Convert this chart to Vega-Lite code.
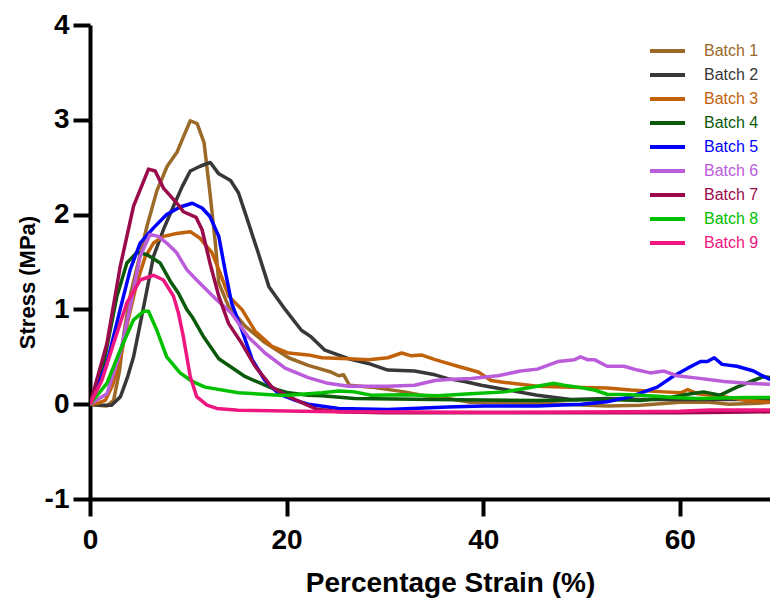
{
  "$schema": "https://vega.github.io/schema/vega-lite/v6.json",
  "width": 680,
  "height": 474,
  "autosize": {"type": "none"},
  "padding": {"left": 90, "top": 25, "right": 0, "bottom": 102},
  "background": "white",
  "config": {"view": {"stroke": null}},
  "datasets": {
    "curves": [
      {"b":"Batch 1","x":0,"y":0},{"b":"Batch 1","x":0.8,"y":-0.01},{"b":"Batch 1","x":1.7,"y":-0.02},{"b":"Batch 1","x":2.4,"y":0.04},{"b":"Batch 1","x":3.0,"y":0.35},{"b":"Batch 1","x":3.45,"y":0.75},{"b":"Batch 1","x":4.1,"y":1.15},{"b":"Batch 1","x":4.8,"y":1.45},{"b":"Batch 1","x":5.8,"y":1.88},{"b":"Batch 1","x":6.8,"y":2.25},{"b":"Batch 1","x":7.85,"y":2.51},{"b":"Batch 1","x":8.86,"y":2.66},{"b":"Batch 1","x":9.5,"y":2.82},{"b":"Batch 1","x":10.2,"y":2.99},{"b":"Batch 1","x":10.9,"y":2.96},{"b":"Batch 1","x":11.6,"y":2.76},{"b":"Batch 1","x":12.2,"y":2.23},{"b":"Batch 1","x":12.75,"y":1.7},{"b":"Batch 1","x":13.1,"y":1.28},{"b":"Batch 1","x":14.1,"y":1.03},{"b":"Batch 1","x":15.8,"y":0.82},{"b":"Batch 1","x":17.8,"y":0.65},{"b":"Batch 1","x":20.2,"y":0.49},{"b":"Batch 1","x":22.2,"y":0.41},{"b":"Batch 1","x":24.5,"y":0.34},{"b":"Batch 1","x":25.3,"y":0.3},{"b":"Batch 1","x":25.8,"y":0.31},{"b":"Batch 1","x":26.4,"y":0.2},{"b":"Batch 1","x":28.6,"y":0.18},{"b":"Batch 1","x":32,"y":0.13},{"b":"Batch 1","x":33.7,"y":0.095},{"b":"Batch 1","x":36.4,"y":0.06},{"b":"Batch 1","x":38.7,"y":0.02},{"b":"Batch 1","x":45.5,"y":0.01},{"b":"Batch 1","x":52.6,"y":-0.02},{"b":"Batch 1","x":56,"y":-0.01},{"b":"Batch 1","x":60,"y":0.02},{"b":"Batch 1","x":63,"y":0.02},{"b":"Batch 1","x":65,"y":0.0},{"b":"Batch 1","x":68,"y":0.01},{"b":"Batch 1","x":69.2,"y":0.02},

      {"b":"Batch 2","x":0,"y":0},{"b":"Batch 2","x":1,"y":-0.01},{"b":"Batch 2","x":2.2,"y":-0.01},{"b":"Batch 2","x":3.1,"y":0.08},{"b":"Batch 2","x":3.8,"y":0.28},{"b":"Batch 2","x":4.43,"y":0.5},{"b":"Batch 2","x":5.5,"y":1.05},{"b":"Batch 2","x":6.46,"y":1.56},{"b":"Batch 2","x":7.5,"y":1.85},{"b":"Batch 2","x":8.5,"y":2.09},{"b":"Batch 2","x":9.4,"y":2.3},{"b":"Batch 2","x":10.2,"y":2.46},{"b":"Batch 2","x":11.2,"y":2.51},{"b":"Batch 2","x":12.24,"y":2.55},{"b":"Batch 2","x":13.1,"y":2.43},{"b":"Batch 2","x":14.3,"y":2.36},{"b":"Batch 2","x":15.1,"y":2.23},{"b":"Batch 2","x":16.0,"y":1.95},{"b":"Batch 2","x":17.1,"y":1.6},{"b":"Batch 2","x":18.2,"y":1.24},{"b":"Batch 2","x":19.85,"y":1.0},{"b":"Batch 2","x":21.5,"y":0.78},{"b":"Batch 2","x":22.5,"y":0.71},{"b":"Batch 2","x":23.9,"y":0.57},{"b":"Batch 2","x":26.3,"y":0.48},{"b":"Batch 2","x":28.3,"y":0.43},{"b":"Batch 2","x":30.3,"y":0.36},{"b":"Batch 2","x":33.0,"y":0.35},{"b":"Batch 2","x":35.1,"y":0.31},{"b":"Batch 2","x":36.4,"y":0.27},{"b":"Batch 2","x":38.1,"y":0.24},{"b":"Batch 2","x":39.8,"y":0.2},{"b":"Batch 2","x":42.2,"y":0.155},{"b":"Batch 2","x":45.5,"y":0.095},{"b":"Batch 2","x":48.9,"y":0.05},{"b":"Batch 2","x":52.6,"y":0.06},{"b":"Batch 2","x":56,"y":0.05},{"b":"Batch 2","x":60,"y":0.05},{"b":"Batch 2","x":65,"y":0.05},{"b":"Batch 2","x":69.2,"y":0.05},

      {"b":"Batch 3","x":0,"y":0},{"b":"Batch 3","x":0.8,"y":0.01},{"b":"Batch 3","x":1.55,"y":0.04},{"b":"Batch 3","x":2.3,"y":0.2},{"b":"Batch 3","x":3.07,"y":0.47},{"b":"Batch 3","x":3.9,"y":0.9},{"b":"Batch 3","x":4.77,"y":1.28},{"b":"Batch 3","x":5.6,"y":1.55},{"b":"Batch 3","x":6.46,"y":1.7},{"b":"Batch 3","x":7.47,"y":1.77},{"b":"Batch 3","x":8.8,"y":1.8},{"b":"Batch 3","x":10.2,"y":1.82},{"b":"Batch 3","x":11.2,"y":1.75},{"b":"Batch 3","x":12.4,"y":1.6},{"b":"Batch 3","x":13.25,"y":1.38},{"b":"Batch 3","x":14.1,"y":1.14},{"b":"Batch 3","x":15.45,"y":1.0},{"b":"Batch 3","x":16.8,"y":0.77},{"b":"Batch 3","x":18.5,"y":0.61},{"b":"Batch 3","x":20.2,"y":0.54},{"b":"Batch 3","x":22.2,"y":0.52},{"b":"Batch 3","x":23.6,"y":0.49},{"b":"Batch 3","x":26.3,"y":0.48},{"b":"Batch 3","x":28.3,"y":0.47},{"b":"Batch 3","x":30.3,"y":0.49},{"b":"Batch 3","x":31.7,"y":0.54},{"b":"Batch 3","x":32.7,"y":0.51},{"b":"Batch 3","x":33.7,"y":0.52},{"b":"Batch 3","x":35.1,"y":0.47},{"b":"Batch 3","x":36.4,"y":0.43},{"b":"Batch 3","x":37.4,"y":0.4},{"b":"Batch 3","x":39.5,"y":0.34},{"b":"Batch 3","x":40.8,"y":0.25},{"b":"Batch 3","x":42.2,"y":0.23},{"b":"Batch 3","x":45.5,"y":0.19},{"b":"Batch 3","x":48.9,"y":0.18},{"b":"Batch 3","x":52.6,"y":0.17},{"b":"Batch 3","x":55.0,"y":0.15},{"b":"Batch 3","x":58.4,"y":0.13},{"b":"Batch 3","x":60.1,"y":0.12},{"b":"Batch 3","x":60.8,"y":0.155},{"b":"Batch 3","x":61.8,"y":0.11},{"b":"Batch 3","x":64.5,"y":0.08},{"b":"Batch 3","x":66.8,"y":0.04},{"b":"Batch 3","x":69.2,"y":0.02},

      {"b":"Batch 4","x":0,"y":0},{"b":"Batch 4","x":1.39,"y":0.43},{"b":"Batch 4","x":2.74,"y":1.14},{"b":"Batch 4","x":3.75,"y":1.49},{"b":"Batch 4","x":4.77,"y":1.6},{"b":"Batch 4","x":5.78,"y":1.58},{"b":"Batch 4","x":7.13,"y":1.49},{"b":"Batch 4","x":8.15,"y":1.3},{"b":"Batch 4","x":9.0,"y":1.17},{"b":"Batch 4","x":9.84,"y":1.0},{"b":"Batch 4","x":10.4,"y":0.92},{"b":"Batch 4","x":11.5,"y":0.72},{"b":"Batch 4","x":13.1,"y":0.48},{"b":"Batch 4","x":15.8,"y":0.29},{"b":"Batch 4","x":18.5,"y":0.17},{"b":"Batch 4","x":20.2,"y":0.12},{"b":"Batch 4","x":22.2,"y":0.095},{"b":"Batch 4","x":23.6,"y":0.09},{"b":"Batch 4","x":26.9,"y":0.06},{"b":"Batch 4","x":35,"y":0.05},{"b":"Batch 4","x":45.5,"y":0.04},{"b":"Batch 4","x":52.6,"y":0.05},{"b":"Batch 4","x":56,"y":0.04},{"b":"Batch 4","x":59,"y":0.07},{"b":"Batch 4","x":60.8,"y":0.105},{"b":"Batch 4","x":62.4,"y":0.13},{"b":"Batch 4","x":64.1,"y":0.095},{"b":"Batch 4","x":65.8,"y":0.18},{"b":"Batch 4","x":67.5,"y":0.25},{"b":"Batch 4","x":68.5,"y":0.29},{"b":"Batch 4","x":69.2,"y":0.28},

      {"b":"Batch 5","x":0,"y":0},{"b":"Batch 5","x":1.72,"y":0.43},{"b":"Batch 5","x":3.07,"y":1.0},{"b":"Batch 5","x":4.09,"y":1.42},{"b":"Batch 5","x":5.1,"y":1.7},{"b":"Batch 5","x":6.46,"y":1.86},{"b":"Batch 5","x":7.8,"y":2.0},{"b":"Batch 5","x":9.16,"y":2.08},{"b":"Batch 5","x":10.4,"y":2.12},{"b":"Batch 5","x":11.4,"y":2.07},{"b":"Batch 5","x":12.2,"y":1.98},{"b":"Batch 5","x":13.1,"y":1.77},{"b":"Batch 5","x":13.8,"y":1.38},{"b":"Batch 5","x":14.4,"y":1.07},{"b":"Batch 5","x":15.45,"y":0.78},{"b":"Batch 5","x":16.5,"y":0.47},{"b":"Batch 5","x":17.8,"y":0.25},{"b":"Batch 5","x":19.2,"y":0.11},{"b":"Batch 5","x":20.9,"y":0.04},{"b":"Batch 5","x":22.2,"y":0.0},{"b":"Batch 5","x":25.3,"y":-0.045},{"b":"Batch 5","x":30.3,"y":-0.055},{"b":"Batch 5","x":36.4,"y":-0.03},{"b":"Batch 5","x":40,"y":-0.02},{"b":"Batch 5","x":45.5,"y":-0.02},{"b":"Batch 5","x":50,"y":0.0},{"b":"Batch 5","x":52.6,"y":0.025},{"b":"Batch 5","x":55,"y":0.08},{"b":"Batch 5","x":57.7,"y":0.18},{"b":"Batch 5","x":59.4,"y":0.3},{"b":"Batch 5","x":60.8,"y":0.38},{"b":"Batch 5","x":62.1,"y":0.45},{"b":"Batch 5","x":62.8,"y":0.45},{"b":"Batch 5","x":63.5,"y":0.49},{"b":"Batch 5","x":64.3,"y":0.42},{"b":"Batch 5","x":65.8,"y":0.4},{"b":"Batch 5","x":67.5,"y":0.35},{"b":"Batch 5","x":68.2,"y":0.31},{"b":"Batch 5","x":69.2,"y":0.26},

      {"b":"Batch 6","x":0,"y":0},{"b":"Batch 6","x":1.72,"y":0.11},{"b":"Batch 6","x":3.07,"y":0.54},{"b":"Batch 6","x":4.09,"y":1.03},{"b":"Batch 6","x":5.1,"y":1.56},{"b":"Batch 6","x":6.1,"y":1.79},{"b":"Batch 6","x":6.96,"y":1.77},{"b":"Batch 6","x":7.8,"y":1.7},{"b":"Batch 6","x":8.8,"y":1.6},{"b":"Batch 6","x":9.84,"y":1.42},{"b":"Batch 6","x":10.85,"y":1.31},{"b":"Batch 6","x":12.2,"y":1.17},{"b":"Batch 6","x":12.9,"y":1.1},{"b":"Batch 6","x":14.4,"y":0.96},{"b":"Batch 6","x":16.1,"y":0.71},{"b":"Batch 6","x":17.8,"y":0.54},{"b":"Batch 6","x":19.85,"y":0.38},{"b":"Batch 6","x":22.2,"y":0.28},{"b":"Batch 6","x":24.2,"y":0.22},{"b":"Batch 6","x":26.3,"y":0.19},{"b":"Batch 6","x":30.3,"y":0.19},{"b":"Batch 6","x":33,"y":0.2},{"b":"Batch 6","x":35.1,"y":0.25},{"b":"Batch 6","x":36.4,"y":0.26},{"b":"Batch 6","x":38.8,"y":0.27},{"b":"Batch 6","x":41.5,"y":0.3},{"b":"Batch 6","x":43.8,"y":0.35},{"b":"Batch 6","x":45.5,"y":0.37},{"b":"Batch 6","x":47.6,"y":0.45},{"b":"Batch 6","x":49.3,"y":0.47},{"b":"Batch 6","x":49.9,"y":0.5},{"b":"Batch 6","x":50.6,"y":0.47},{"b":"Batch 6","x":51.3,"y":0.47},{"b":"Batch 6","x":52.6,"y":0.4},{"b":"Batch 6","x":54.3,"y":0.4},{"b":"Batch 6","x":55.7,"y":0.36},{"b":"Batch 6","x":57.0,"y":0.33},{"b":"Batch 6","x":58.4,"y":0.35},{"b":"Batch 6","x":59.7,"y":0.3},{"b":"Batch 6","x":61.8,"y":0.275},{"b":"Batch 6","x":64.5,"y":0.24},{"b":"Batch 6","x":66.8,"y":0.22},{"b":"Batch 6","x":69.2,"y":0.21},

      {"b":"Batch 7","x":0,"y":0},{"b":"Batch 7","x":1.72,"y":0.64},{"b":"Batch 7","x":3.07,"y":1.45},{"b":"Batch 7","x":4.43,"y":2.09},{"b":"Batch 7","x":5.95,"y":2.48},{"b":"Batch 7","x":6.63,"y":2.46},{"b":"Batch 7","x":7.47,"y":2.28},{"b":"Batch 7","x":8.49,"y":2.16},{"b":"Batch 7","x":9.0,"y":2.1},{"b":"Batch 7","x":9.5,"y":2.03},{"b":"Batch 7","x":10.8,"y":1.97},{"b":"Batch 7","x":11.4,"y":1.84},{"b":"Batch 7","x":12.2,"y":1.49},{"b":"Batch 7","x":13.1,"y":1.14},{"b":"Batch 7","x":14.1,"y":0.85},{"b":"Batch 7","x":15.45,"y":0.64},{"b":"Batch 7","x":16.8,"y":0.4},{"b":"Batch 7","x":18.5,"y":0.18},{"b":"Batch 7","x":20.2,"y":0.08},{"b":"Batch 7","x":21.5,"y":0.02},{"b":"Batch 7","x":23,"y":-0.05},{"b":"Batch 7","x":25.3,"y":-0.08},{"b":"Batch 7","x":30,"y":-0.09},{"b":"Batch 7","x":40,"y":-0.09},{"b":"Batch 7","x":50,"y":-0.09},{"b":"Batch 7","x":60,"y":-0.09},{"b":"Batch 7","x":65,"y":-0.085},{"b":"Batch 7","x":69.2,"y":-0.08},

      {"b":"Batch 8","x":0,"y":0},{"b":"Batch 8","x":1.72,"y":0.22},{"b":"Batch 8","x":3.07,"y":0.57},{"b":"Batch 8","x":4.43,"y":0.89},{"b":"Batch 8","x":5.45,"y":0.98},{"b":"Batch 8","x":5.95,"y":0.98},{"b":"Batch 8","x":6.8,"y":0.78},{"b":"Batch 8","x":7.8,"y":0.5},{"b":"Batch 8","x":9.16,"y":0.33},{"b":"Batch 8","x":10.4,"y":0.24},{"b":"Batch 8","x":11.7,"y":0.18},{"b":"Batch 8","x":15.1,"y":0.12},{"b":"Batch 8","x":19.2,"y":0.095},{"b":"Batch 8","x":20.2,"y":0.095},{"b":"Batch 8","x":23.6,"y":0.12},{"b":"Batch 8","x":25.3,"y":0.14},{"b":"Batch 8","x":26.9,"y":0.13},{"b":"Batch 8","x":28.6,"y":0.095},{"b":"Batch 8","x":32,"y":0.1},{"b":"Batch 8","x":35.4,"y":0.09},{"b":"Batch 8","x":38.7,"y":0.11},{"b":"Batch 8","x":42.2,"y":0.13},{"b":"Batch 8","x":44.2,"y":0.165},{"b":"Batch 8","x":45.5,"y":0.19},{"b":"Batch 8","x":47.2,"y":0.22},{"b":"Batch 8","x":48.2,"y":0.2},{"b":"Batch 8","x":49.6,"y":0.18},{"b":"Batch 8","x":51.3,"y":0.15},{"b":"Batch 8","x":52.6,"y":0.105},{"b":"Batch 8","x":55,"y":0.1},{"b":"Batch 8","x":57.7,"y":0.085},{"b":"Batch 8","x":59.4,"y":0.07},{"b":"Batch 8","x":61.8,"y":0.06},{"b":"Batch 8","x":66.8,"y":0.07},{"b":"Batch 8","x":69.2,"y":0.07},

      {"b":"Batch 9","x":0,"y":0},{"b":"Batch 9","x":1.2,"y":0.25},{"b":"Batch 9","x":2.4,"y":0.64},{"b":"Batch 9","x":3.75,"y":1.07},{"b":"Batch 9","x":5.1,"y":1.31},{"b":"Batch 9","x":6.46,"y":1.36},{"b":"Batch 9","x":7.47,"y":1.31},{"b":"Batch 9","x":8.49,"y":1.14},{"b":"Batch 9","x":9.0,"y":0.96},{"b":"Batch 9","x":9.5,"y":0.71},{"b":"Batch 9","x":10.2,"y":0.29},{"b":"Batch 9","x":10.85,"y":0.08},{"b":"Batch 9","x":11.9,"y":-0.01},{"b":"Batch 9","x":12.9,"y":-0.045},{"b":"Batch 9","x":15.1,"y":-0.065},{"b":"Batch 9","x":25,"y":-0.08},{"b":"Batch 9","x":40,"y":-0.085},{"b":"Batch 9","x":55,"y":-0.08},{"b":"Batch 9","x":60,"y":-0.075},{"b":"Batch 9","x":63,"y":-0.06},{"b":"Batch 9","x":69.2,"y":-0.06}
    ]
  },
  "data": {"name": "curves"},
  "mark": {"type": "line", "strokeWidth": 3.5, "clip": true, "strokeJoin": "round"},
  "encoding": {
    "x": {
      "field": "x", "type": "quantitative",
      "scale": {"domain": [0, 69.17], "nice": false, "zero": false},
      "axis": {
        "values": [0, 20, 40, 60],
        "title": "Percentage Strain (%)",
        "grid": false,
        "domainColor": "black", "domainWidth": 4, "domainCap": "square",
        "tickColor": "black", "tickWidth": 4, "tickSize": 17,
        "labelFont": "Liberation Sans", "labelFontWeight": "bold", "labelFontSize": 28, "labelColor": "black", "labelPadding": 10,
        "labelFlush": false,
        "titleFont": "Liberation Sans", "titleFontWeight": "bold", "titleFontSize": 28, "titleColor": "black",
        "titleX": 360, "titleY": 84, "titleBaseline": "middle", "titleAlign": "center"
      }
    },
    "y": {
      "field": "y", "type": "quantitative",
      "scale": {"domain": [-1, 4], "nice": false, "zero": false},
      "axis": {
        "values": [-1, 0, 1, 2, 3, 4],
        "labelExpr": "'' + datum.value",
        "title": "Stress (MPa)",
        "grid": false,
        "domainColor": "black", "domainWidth": 4,
        "tickColor": "black", "tickWidth": 4, "tickSize": 17,
        "labelFont": "Liberation Sans", "labelFontWeight": "bold", "labelFontSize": 28, "labelColor": "black", "labelPadding": 4,
        "labelFlush": false,
        "titleFont": "Liberation Sans", "titleFontWeight": "bold", "titleFontSize": 22, "titleColor": "black",
        "titleX": -63, "titleY": 257, "titleBaseline": "middle", "titleAlign": "center", "titleAngle": 270
      }
    },
    "color": {
      "field": "b", "type": "nominal",
      "scale": {
        "domain": ["Batch 1","Batch 2","Batch 3","Batch 4","Batch 5","Batch 6","Batch 7","Batch 8","Batch 9"],
        "range": ["#9B6928","#383838","#C1610A","#0B5A0B","#0000FF","#BB5CDB","#9B0A4B","#00C000","#F0167F"]
      },
      "legend": {
        "title": null,
        "orient": "none",
        "legendX": 558,
        "legendY": 14,
        "symbolType": "stroke",
        "symbolStrokeWidth": 4,
        "symbolSize": 1225,
        "clipHeight": 24,
        "labelFont": "Liberation Sans",
        "labelFontSize": 16,
        "labelOffset": 17,
        "rowPadding": 0,
        "encode": {
          "labels": {"update": {"fill": {"scale": "color", "field": "value"}}}
        }
      }
    }
  }
}
